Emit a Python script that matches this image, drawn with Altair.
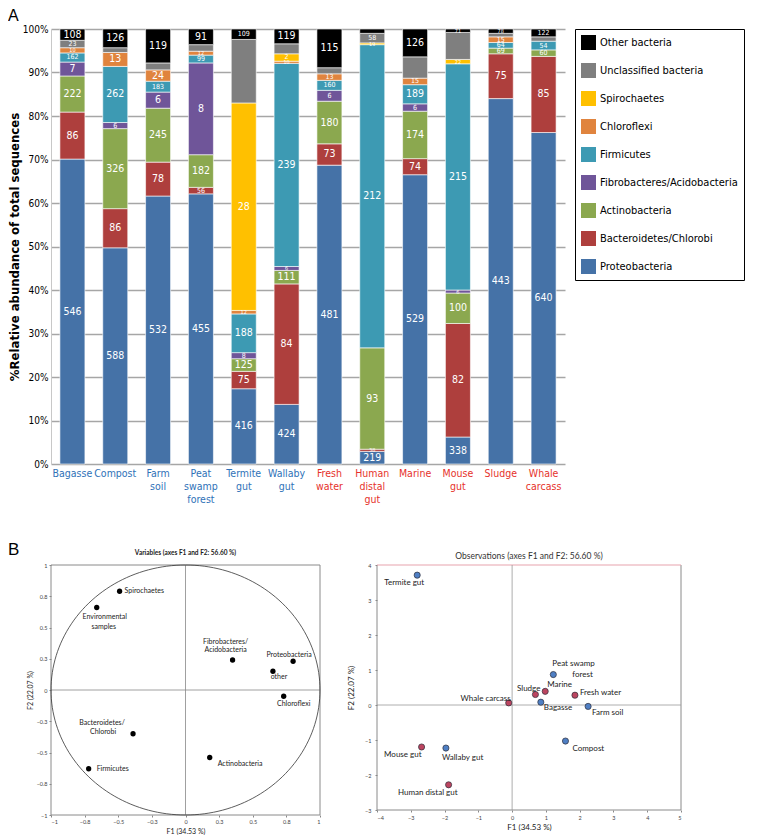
import altair as alt
import pandas as pd

NARROW = "DejaVu Sans Condensed, Liberation Sans, sans-serif"
SANS = "Lato, Open Sans, sans-serif"

# ---------------- Panel A data ----------------
samples = ["Bagasse", "Compost", "Farm soil", "Peat swamp forest", "Termite gut", "Wallaby gut",
           "Fresh water", "Human distal gut", "Marine", "Mouse gut", "Sludge", "Whale carcass"]
env_samples = ["Bagasse", "Compost", "Farm soil", "Peat swamp forest", "Termite gut", "Wallaby gut"]
host_samples = ["Fresh water", "Human distal gut", "Marine", "Mouse gut", "Sludge", "Whale carcass"]

phyla = ["Proteobacteria", "Bacteroidetes/Chlorobi", "Actinobacteria", "Fibrobacteres/Acidobacteria",
         "Firmicutes", "Chloroflexi", "Spirochaetes", "Unclassified bacteria", "Other bacteria"]

# relative abundance (% of total sequences)
proteo_pct = [70.1, 49.7, 61.6, 62.1, 17.3, 13.7, 68.7, 2.9, 66.5, 6.2, 84.0, 76.2]
bactero_pct = [10.8, 9.0, 7.8, 1.5, 4.0, 27.7, 4.9, 0.5, 3.7, 26.1, 10.3, 17.5]
actino_pct = [8.3, 18.4, 12.4, 7.5, 2.9, 3.1, 9.8, 23.3, 10.9, 7.0, 1.3, 1.5]
fibro_pct = [3.2, 1.4, 3.7, 21.1, 1.4, 0.9, 2.5, 0.0, 1.7, 0.7, 0.0, 0.0]
firmi_pct = [2.1, 12.9, 2.5, 1.8, 8.9, 46.7, 2.3, 69.7, 4.4, 52.0, 1.3, 2.0]
chloro_pct = [1.2, 3.2, 2.6, 0.9, 0.8, 0.5, 1.5, 0.0, 1.5, 0.0, 1.3, 0.0]
spiro_pct = [0.0, 0.0, 0.0, 0.0, 47.7, 1.7, 0.0, 0.4, 0.0, 1.0, 0.0, 0.0]
unclass_pct = [1.7, 1.1, 1.6, 1.5, 14.6, 2.3, 1.4, 2.2, 4.9, 6.2, 0.8, 1.0]
other_pct = [2.6, 4.3, 7.8, 3.6, 2.4, 3.4, 8.9, 1.0, 6.4, 0.8, 1.0, 1.8]

# numbers printed inside the segments
proteo_n = [546, 588, 532, 455, 416, 424, 481, 219, 529, 338, 443, 640]
bactero_n = [86, 86, 78, 56, 75, 84, 73, 38, 74, 82, 75, 85]
actino_n = [222, 326, 245, 182, 125, 111, 180, 93, 174, 100, 69, 60]
fibro_n = [7, 6, 6, 8, 8, 6, 6, None, 6, 6, None, None]
firmi_n = [162, 262, 183, 99, 188, 239, 160, 212, 189, 215, 64, 54]
chloro_n = [10, 13, 24, 12, 12, 10, 13, None, 15, None, 15, None]
spiro_n = [None, None, None, None, 28, 2, None, 19, None, 22, None, None]
unclass_n = [23, None, None, None, None, None, None, 58, None, None, None, None]
other_n = [108, 126, 119, 91, 109, 119, 115, None, 126, 71, 78, 122]

legend_order = ["Other bacteria", "Unclassified bacteria", "Spirochaetes", "Chloroflexi", "Firmicutes",
                "Fibrobacteres/Acidobacteria", "Actinobacteria", "Bacteroidetes/Chlorobi", "Proteobacteria"]
legend_colors = ["#000000", "#7F7F7F", "#FFC000", "#E0843E", "#3D9AB3",
                 "#6F5599", "#8BA84F", "#AE3F3D", "#4572A7"]

# ---------------- Panel B data ----------------
var_names = ["Spirochaetes", "Environmental samples", "Fibrobacteres/Acidobacteria", "Proteobacteria",
             "other", "Chloroflexi", "Bacteroidetes/Chlorobi", "Firmicutes", "Actinobacteria"]
var_f1 = [-0.49, -0.66, 0.35, 0.80, 0.65, 0.73, -0.39, -0.72, 0.18]
var_f2 = [0.79, 0.66, 0.24, 0.23, 0.15, -0.05, -0.35, -0.63, -0.54]

obs_names = ["Termite gut", "Peat swamp forest", "Sludge", "Marine", "Fresh water", "Whale carcass",
             "Bagasse", "Farm soil", "Compost", "Mouse gut", "Wallaby gut", "Human distal gut"]
obs_f1 = [-2.81, 1.22, 0.69, 0.98, 1.86, -0.10, 0.85, 2.25, 1.58, -2.68, -1.96, -1.88]
obs_f2 = [3.71, 0.87, 0.30, 0.39, 0.28, 0.06, 0.08, -0.04, -1.03, -1.20, -1.23, -2.28]

var_ticks = [-1, -0.75, -0.5, -0.25, 0, 0.25, 0.5, 0.75, 1]
obs_x_ticks = [-4, -3, -2, -1, 0, 1, 2, 3, 4, 5]
obs_y_ticks = [-3, -2, -1, 0, 1, 2, 3, 4]

# label placement styles: (text line, align, dx, dy)
var_label_style = {
    "Spirochaetes": [("Spirochaetes", "left", 5, 0)],
    "Environmental samples": [("Environmental", "center", 8, 9), ("samples", "center", 7, 19)],
    "Fibrobacteres/Acidobacteria": [("Fibrobacteres/", "center", -7, -18), ("Acidobacteria", "center", -7, -10)],
    "Proteobacteria": [("Proteobacteria", "center", -4, -6)],
    "other": [("other", "center", 6, 6)],
    "Chloroflexi": [("Chloroflexi", "center", 10, 8)],
    "Bacteroidetes/Chlorobi": [("Bacteroidetes/", "center", -31, -11), ("Chlorobi", "center", -30, -2)],
    "Firmicutes": [("Firmicutes", "left", 8, 0)],
    "Actinobacteria": [("Actinobacteria", "left", 8, 6)],
}
obs_label_style = {
    "Termite gut": [("Termite gut", "center", -13, 8)],
    "Peat swamp forest": [("Peat swamp", "left", -1, -11), ("forest", "left", 19, 0)],
    "Sludge": [("Sludge", "right", 5, -6)],
    "Marine": [("Marine", "left", 2, -6)],
    "Fresh water": [("Fresh water", "left", 5, -2)],
    "Whale carcass": [("Whale carcass", "right", 2, -4)],
    "Bagasse": [("Bagasse", "left", 3, 6)],
    "Farm soil": [("Farm soil", "left", 4, 7)],
    "Compost": [("Compost", "left", 7, 8)],
    "Mouse gut": [("Mouse gut", "right", 0, 8)],
    "Wallaby gut": [("Wallaby gut", "left", -4, 10)],
    "Human distal gut": [("Human distal gut", "right", 9, 8)],
}

BLUE_TXT = "#2F72B8"
RED_TXT = "#E6322B"

# ---------------- Panel A chart ----------------
pct_lists = [proteo_pct, bactero_pct, actino_pct, fibro_pct, firmi_pct, chloro_pct, spiro_pct, unclass_pct, other_pct]
n_lists = [proteo_n, bactero_n, actino_n, fibro_n, firmi_n, chloro_n, spiro_n, unclass_n, other_n]
rows = []
for i, s in enumerate(samples):
    for k, ph in enumerate(phyla):
        p = pct_lists[k][i]
        if p > 0:
            n = n_lists[k][i]
            rows.append({"sample": s, "phylum": ph, "k": k, "pct": p, "lab": "" if n is None else str(n)})
bars_df = pd.DataFrame(rows)

base = alt.Chart(bars_df).transform_window(
    y1="sum(pct)", groupby=["sample"], sort=[alt.SortField("k", order="ascending")], frame=[None, 0]
).transform_calculate(
    y0="datum.y1 - datum.pct",
    mid="datum.y1 - datum.pct / 2",
)

y_axis = alt.Axis(
    title="%Relative abundance of total sequences", values=list(range(0, 101, 10)),
    labelExpr="datum.value + '%'", labelFont=NARROW, labelFontSize=10, labelColor="black",
    labelPadding=3, ticks=False, grid=True, gridColor="#A6A6A6", gridWidth=1.3, domain=True,
    domainColor="#C8C8C8", titleFont=NARROW, titleFontSize=13, titleFontWeight="bold",
    titleColor="black", titlePadding=1,
)
x_axis = alt.Axis(title=None, labels=False, ticks=False, domain=False)
xs_bar = alt.Scale(domain=samples, paddingInner=0, paddingOuter=0)
ys_bar = alt.Scale(domain=[0, 100], nice=False)

bars = base.mark_bar(size=25, stroke="white", strokeWidth=0.6).encode(
    x=alt.X("sample:N", scale=xs_bar, axis=x_axis),
    y=alt.Y("y0:Q", scale=ys_bar, axis=y_axis),
    y2="y1:Q",
    color=alt.Color(
        "phylum:N",
        scale=alt.Scale(domain=legend_order, range=legend_colors),
        legend=alt.Legend(
            title=None, orient="right", offset=10, symbolType="square", symbolSize=225,
            symbolStrokeWidth=0, labelFont=NARROW, labelFontSize=11, labelColor="black", rowPadding=13,
            strokeColor="black", fillColor="white", padding=6, labelOffset=4, labelLimit=300,
        ),
    ),
)

def seg_text(cond, fsize):
    return base.transform_filter("datum.lab != ''").transform_filter(cond).mark_text(
        color="white", font=NARROW, baseline="middle", align="center", fontSize=fsize
    ).encode(
        x=alt.X("sample:N", scale=xs_bar, axis=x_axis),
        y=alt.Y("mid:Q", scale=ys_bar, axis=y_axis),
        text="lab:N",
    )

txt_big = seg_text("datum.pct >= 2.6", 10.5)
txt_mid = seg_text("datum.pct >= 1.3 && datum.pct < 2.6", 7)
txt_small = seg_text("datum.pct < 1.3", 5.5)

# multi-line category labels (one text layer per line)
xlab_rows = []
for s in samples:
    for li, w in enumerate(s.split(" ")):
        xlab_rows.append({"sample": s, "word": w, "line": li, "host": s in host_samples})
xlab_df = pd.DataFrame(xlab_rows)

def sample_labels(line, host, colour):
    return alt.Chart(xlab_df).transform_filter(
        f"datum.line == {line} && datum.host == {'true' if host else 'false'}"
    ).mark_text(
        baseline="top", align="center", font=NARROW, fontSize=10.5, color=colour, dy=line * 13
    ).encode(x=alt.X("sample:N", scale=xs_bar, axis=x_axis), y=alt.value(440), text="word:N")

xlabel_layers = [sample_labels(li, h, RED_TXT if h else BLUE_TXT) for li in range(3) for h in (False, True)]

# panel letter "B" (annotation placed left of panel B, below panel A)
b_letter = alt.Chart(pd.DataFrame({"z": [0]})).mark_text(
    text="B", align="left", baseline="alphabetic", fontSize=17,
    font="Liberation Sans, Arial, sans-serif", color="black"
).encode(x=alt.value(-43), y=alt.value(526))

panel_a = alt.layer(bars, txt_big, txt_mid, txt_small, *xlabel_layers, b_letter).properties(
    width=514, height=435,
    title=alt.TitleParams("A", anchor="start", fontSize=16, font="Liberation Sans, Arial, sans-serif",
                          fontWeight="normal", offset=0, color="black"),
)

# ---------------- Panel B charts ----------------
def axis_q(title, values, fs_title, pad_title, lab_pad=2):
    return alt.Axis(title=title, values=values, format="~g", labelFont=SANS, labelFontSize=5.5,
                    labelColor="#444", tickSize=2, tickColor="#888", labelPadding=lab_pad, domain=False,
                    grid=False, titleFont=SANS, titleFontSize=fs_title, titleFontWeight="normal",
                    titleColor="#222", titlePadding=pad_title)

# left: variables (correlation circle)
var_df = pd.DataFrame({"name": var_names, "f1": var_f1, "f2": var_f2})
vxs = alt.Scale(domain=[-1, 1], nice=False, zero=False)
vys = alt.Scale(domain=[-1, 1], nice=False, zero=False)
vxa = axis_q("F1 (34.53 %)", var_ticks, 7, 3)
vya = axis_q("F2 (22.07 %)", var_ticks, 7, 3)

def vx(field):
    return alt.X(field, scale=vxs, axis=vxa)

def vy(field):
    return alt.Y(field, scale=vys, axis=vya)

v_zero = pd.DataFrame({"z": [0]})
v_edges = pd.DataFrame({"e": [-1, 1]})
v_frame_x = alt.Chart(v_edges).mark_rule(color="#8A8A8A", strokeWidth=1).encode(x=vx("e:Q"))
v_frame_y = alt.Chart(v_edges).mark_rule(color="#8A8A8A", strokeWidth=1).encode(y=vy("e:Q"))
v_vline = alt.Chart(v_zero).mark_rule(color="#888", strokeWidth=0.8).encode(x=vx("z:Q"))
v_hline = alt.Chart(v_zero).mark_rule(color="#888", strokeWidth=0.8).encode(y=vy("z:Q"))
v_circle = alt.Chart(alt.sequence(0, 362, 2, as_="t")).transform_calculate(
    cx="cos(datum.t * PI / 180)", cy="sin(datum.t * PI / 180)"
).mark_line(color="#333", strokeWidth=0.8).encode(x=vx("cx:Q"), y=vy("cy:Q"), order="t:Q")
v_points = alt.Chart(var_df).mark_circle(size=28, color="black", opacity=1).encode(x=vx("f1:Q"), y=vy("f2:Q"))

v_layers = [v_frame_x, v_frame_y, v_vline, v_hline, v_circle, v_points]
for name, lines in var_label_style.items():
    for txt, al, dx, dy in lines:
        v_layers.append(
            alt.Chart(var_df).transform_filter(alt.datum.name == name).mark_text(
                text=txt, align=al, dx=dx, dy=dy, baseline="middle", font=SANS, fontSize=7, color="#222"
            ).encode(x=vx("f1:Q"), y=vy("f2:Q"))
        )
panel_var = alt.layer(*v_layers).properties(
    width=269, height=250,
    title=alt.TitleParams("Variables (axes F1 and F2: 56.60 %)", font=SANS, fontSize=6.5, fontWeight="bold",
                          color="#222", offset=7),
)

# right: observations
obs_df = pd.DataFrame({"name": obs_names, "f1": obs_f1, "f2": obs_f2})
obs_df["host"] = [n in host_samples for n in obs_names]
oxs = alt.Scale(domain=[-4, 5], nice=False, zero=False)
oys = alt.Scale(domain=[-3, 4], nice=False, zero=False)
oxa = axis_q("F1 (34.53 %)", obs_x_ticks, 8, 3, 3)
oya = axis_q("F2 (22.07 %)", obs_y_ticks, 8, 9, 4)

def ox(field):
    return alt.X(field, scale=oxs, axis=oxa)

def oy(field):
    return alt.Y(field, scale=oys, axis=oya)

o_zero = pd.DataFrame({"z": [0]})
o_xedges = pd.DataFrame({"e": [-4, 5]})
o_bottom = pd.DataFrame({"e": [-3]})
o_topedge = pd.DataFrame({"e": [4]})
o_frame_x = alt.Chart(o_xedges).mark_rule(color="#8A8A8A", strokeWidth=1).encode(x=ox("e:Q"))
o_frame_b = alt.Chart(o_bottom).mark_rule(color="#8A8A8A", strokeWidth=1).encode(y=oy("e:Q"))
o_frame_t = alt.Chart(o_topedge).mark_rule(color="#E7A3AD", strokeWidth=1).encode(y=oy("e:Q"))
o_vline = alt.Chart(o_zero).mark_rule(color="#999", strokeWidth=0.8).encode(x=ox("z:Q"))
o_hline = alt.Chart(o_zero).mark_rule(color="#999", strokeWidth=0.8).encode(y=oy("z:Q"))

def obs_points(host, fill):
    return alt.Chart(obs_df).transform_filter(
        f"datum.host == {'true' if host else 'false'}"
    ).mark_circle(size=38, color=fill, stroke="#2E2E3A", strokeWidth=0.7, opacity=1).encode(
        x=ox("f1:Q"), y=oy("f2:Q"))

o_layers = [o_frame_x, o_frame_b, o_frame_t, o_vline, o_hline,
            obs_points(False, "#4F7FC4"), obs_points(True, "#BC4560")]
for name, lines in obs_label_style.items():
    for txt, al, dx, dy in lines:
        o_layers.append(
            alt.Chart(obs_df).transform_filter(alt.datum.name == name).mark_text(
                text=txt, align=al, dx=dx, dy=dy, baseline="middle", font=SANS, fontSize=8, color="#222"
            ).encode(x=ox("f1:Q"), y=oy("f2:Q"))
        )
panel_obs = alt.layer(*o_layers).properties(
    width=304, height=245,
    title=alt.TitleParams("Observations (axes F1 and F2: 56.60 %)", font=SANS, fontSize=8.5,
                          fontWeight="normal", color="#333", offset=3),
)

panel_b = alt.hconcat(panel_var, panel_obs, spacing=57, bounds="flush")

chart = alt.vconcat(panel_a, panel_b, spacing=101, bounds="flush").properties(
    padding=0
).resolve_scale(color="independent").configure_view(stroke=None)

chart.save("out.html", embed_options={"renderer": "svg", "actions": False})
